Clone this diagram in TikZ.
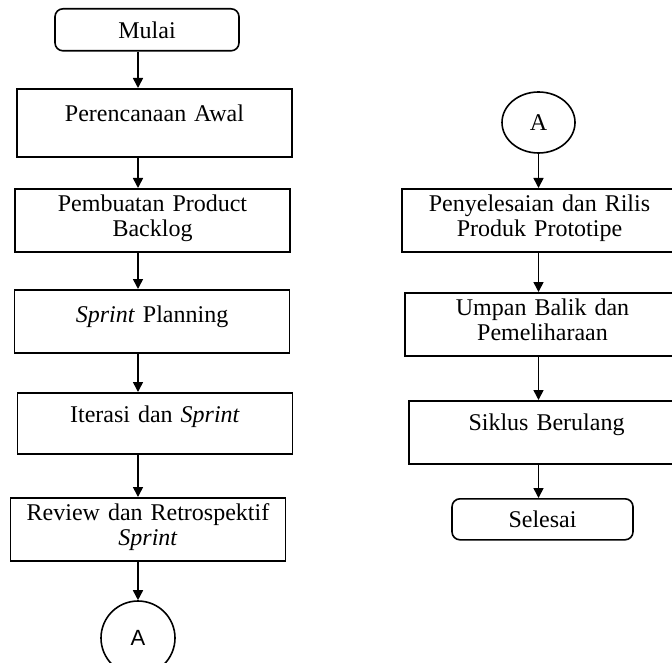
\documentclass[tikz,border=0pt]{standalone}
\usepackage{fontspec}
\setmainfont{Liberation Serif}
\newfontfamily\sansA{Liberation Sans}
\usetikzlibrary{arrows.meta,shapes.geometric}

\tikzset{
  proses/.style={draw, line width=0.8pt, anchor=north, text width=134pt, align=center,
    inner xsep=1.75pt, inner ysep=0pt},
  satu/.style={proses, text height=16.5pt, text depth=15pt},
  dua/.style={proses, text height=11.5pt, text depth=20pt},
  terminal/.style={draw, line width=0.8pt, rounded corners=4pt, anchor=north,
    minimum width=92pt, minimum height=21pt, inner sep=0pt},
  konektor/.style={draw, ellipse, line width=0.8pt, inner sep=0pt},
  panah/.style={-{Triangle[width=5pt,length=5pt]}, line width=0.8pt}
}

\begin{document}
\begin{tikzpicture}[x=0.5pt, y=-0.5pt, font=\fontsize{12}{12.5}\selectfont]
    \useasboundingbox (0,0) rectangle (672,662);
    \clip (0,0) rectangle (672,662);
    % KOLOM KIRI
    \node[terminal] (mulai) at (147,8) {Mulai};
    \node[satu, text depth=17.5pt] (awal) at (154.5,88) {Perencanaan Awal};
    \node[dua] (backlog) at (152.5,188) {Pembuatan Product\\Backlog};
    \node[satu] (planning) at (152,289) {\textit{Sprint} Planning};
    \node[satu, text height=15pt, text depth=15.5pt] (iterasi) at (155,392) {Iterasi dan \textit{Sprint}};
    \node[dua] (review) at (148,497) {Review dan Retrospektif\\\textit{Sprint}};
    \node[konektor, minimum width=37pt, minimum height=37pt, font=\sansA\fontsize{11}{12}\selectfont] (konA) at (138,638) {A};
    % KOLOM KANAN
    \node[konektor, minimum width=36.5pt, minimum height=30.5pt] (konB) at (538.5,122.5) {A};
    \node[dua] (rilis) at (539.5,188) {Penyelesaian dan Rilis\\Produk Prototipe};
    \node[dua] (umpan) at (542.5,292) {Umpan Balik dan\\Pemeliharaan};
    \node[satu, text height=15pt, text depth=16.5pt] (siklus) at (546.5,400) {Siklus Berulang};
    \node[terminal, minimum width=90.5pt, minimum height=20.5pt] (selesai) at (542.5,498) {Selesai};
    % PANAH
    \draw[panah] (mulai.south -| konA) -- (awal.north -| konA);
    \draw[panah] (awal.south -| konA) -- (backlog.north -| konA);
    \draw[panah] (backlog.south -| konA) -- (planning.north -| konA);
    \draw[panah] (planning.south -| konA) -- (iterasi.north -| konA);
    \draw[panah] (iterasi.south -| konA) -- (review.north -| konA);
    \draw[panah] (review.south -| konA) -- (konA.north);
    \draw[panah] (konB.south) -- (rilis.north -| konB);
    \draw[panah] (rilis.south -| konB) -- (umpan.north -| konB);
    \draw[panah] (umpan.south -| konB) -- (siklus.north -| konB);
    \draw[panah] (siklus.south -| konB) -- (selesai.north -| konB);
\end{tikzpicture}
\end{document}
